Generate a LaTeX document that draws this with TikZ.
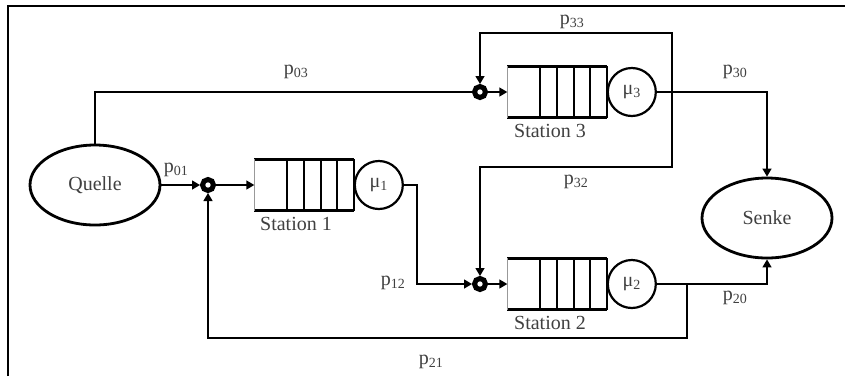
\documentclass[tikz,border=0pt]{standalone}
\usepackage{fontspec}
\setmainfont{Liberation Serif}
\usetikzlibrary{arrows.meta, positioning, shapes.geometric}

\newcommand{\queuelines}[1]{%
  \draw[line width=3.4pt] (#1.north west) -- (#1.north east);
  \draw[line width=3.4pt] (#1.south west) -- (#1.south east);
  \draw[line width=0.8pt, black!40] (#1.north west) -- (#1.south west);
  \draw[line width=2.4pt] (#1.north east) -- (#1.south east);
  \foreach \s in {33,50,67,83}
    \draw[line width=2pt] ([xshift=\s pt]#1.north west) -- ([xshift=\s pt]#1.south west);
}

\begin{document}
\begin{tikzpicture}[
    x = 1pt, y = -1pt, % pixel grid
    > = {Triangle[length=8pt, width=9pt]}, % arrow head style
    line width = 1.4pt,
    font = \fontsize{20}{24}\selectfont,
    every node/.style = {text=black!75}
]

\tikzstyle{terminal}=[
    draw = black,
    ellipse,
    line width = 2.8pt,
    minimum width = 130pt,
    minimum height = 80pt,
]
\tikzstyle{merge}=[draw = black, circle, line width = 5pt, inner sep = 0pt, minimum size = 11pt]
\tikzstyle{queue}=[rectangle, inner sep = 0pt, minimum width = 98pt, minimum height = 50pt]
\tikzstyle{server}=[draw = black, circle, line width = 2.2pt, inner sep = 0pt, minimum size = 48pt]
\tikzstyle{prob}=[font = \fontsize{20}{24}\selectfont, inner sep = 1pt]

\useasboundingbox (0,0) rectangle (845,376);
\draw[line width = 1.2pt] (8,376) -- (8,6) -- (845,6);

% sources and sinks
\node[terminal] (quelle) at (95,185) {Quelle};
\node[terminal] (senke) at (767,218) {Senke};

% stations
\node[merge] (m1) at (208,185) {};
\node[queue] (q1) at (304,185) {};
\node[server, right=0pt of q1] (s1) {μ\textsubscript{1}};
\node[below=3pt of q1, xshift=-8pt] (st1) {Station 1};

\node[merge] (m2) at (480,284) {};
\node[queue] (q2) at (557,284) {};
\node[server, right=0pt of q2] (s2) {μ\textsubscript{2}};
\node[below=3pt of q2, xshift=-7pt] (st2) {Station 2};

\node[merge] (m3) at (480,92) {};
\node[queue] (q3) at (557,92) {};
\node[server, right=0pt of q3] (s3) {μ\textsubscript{3}};
\node[below=3pt of q3, xshift=-7pt] (st3) {Station 3};

\queuelines{q1}
\queuelines{q2}
\queuelines{q3}

% corner points
\coordinate (k1) at (417,284);
\coordinate (b2) at (687,284);
\coordinate (low) at (208,338);
\coordinate (b3) at (672,92);
\coordinate (top) at (480,33);
\coordinate (mid) at (480,167);

% connections
\draw[->] (quelle) -- (m1);
\draw (quelle) |- (m3);
\draw[->] (m1) -- (q1.west);
\draw[->] (m2) -- (q2.west);
\draw[->] (m3) -- (q3.west);
\draw[->] (s1) -| (k1) -- (m2);
\draw[->] (s2) -| (senke);
\draw[->] (s3) -| (senke);
\draw[->] (b2) |- (low) -- (m1);
\draw[->] (b3) |- (top) -- (m3);
\draw[->] (b3) |- (mid) -- (m2);

% probabilities
\node[prob] (p01) at (176,170) {p\textsubscript{01}};
\node[prob] (p03) at (296,72) {p\textsubscript{03}};
\node[prob] (p33) at (572,22) {p\textsubscript{33}};
\node[prob] (p30) at (735,72) {p\textsubscript{30}};
\node[prob] (p32) at (576,182) {p\textsubscript{32}};
\node[prob] (p12) at (393,283) {p\textsubscript{12}};
\node[prob] (p20) at (735,298) {p\textsubscript{20}};
\node[prob] (p21) at (431,362) {p\textsubscript{21}};
\end{tikzpicture}
\end{document}
